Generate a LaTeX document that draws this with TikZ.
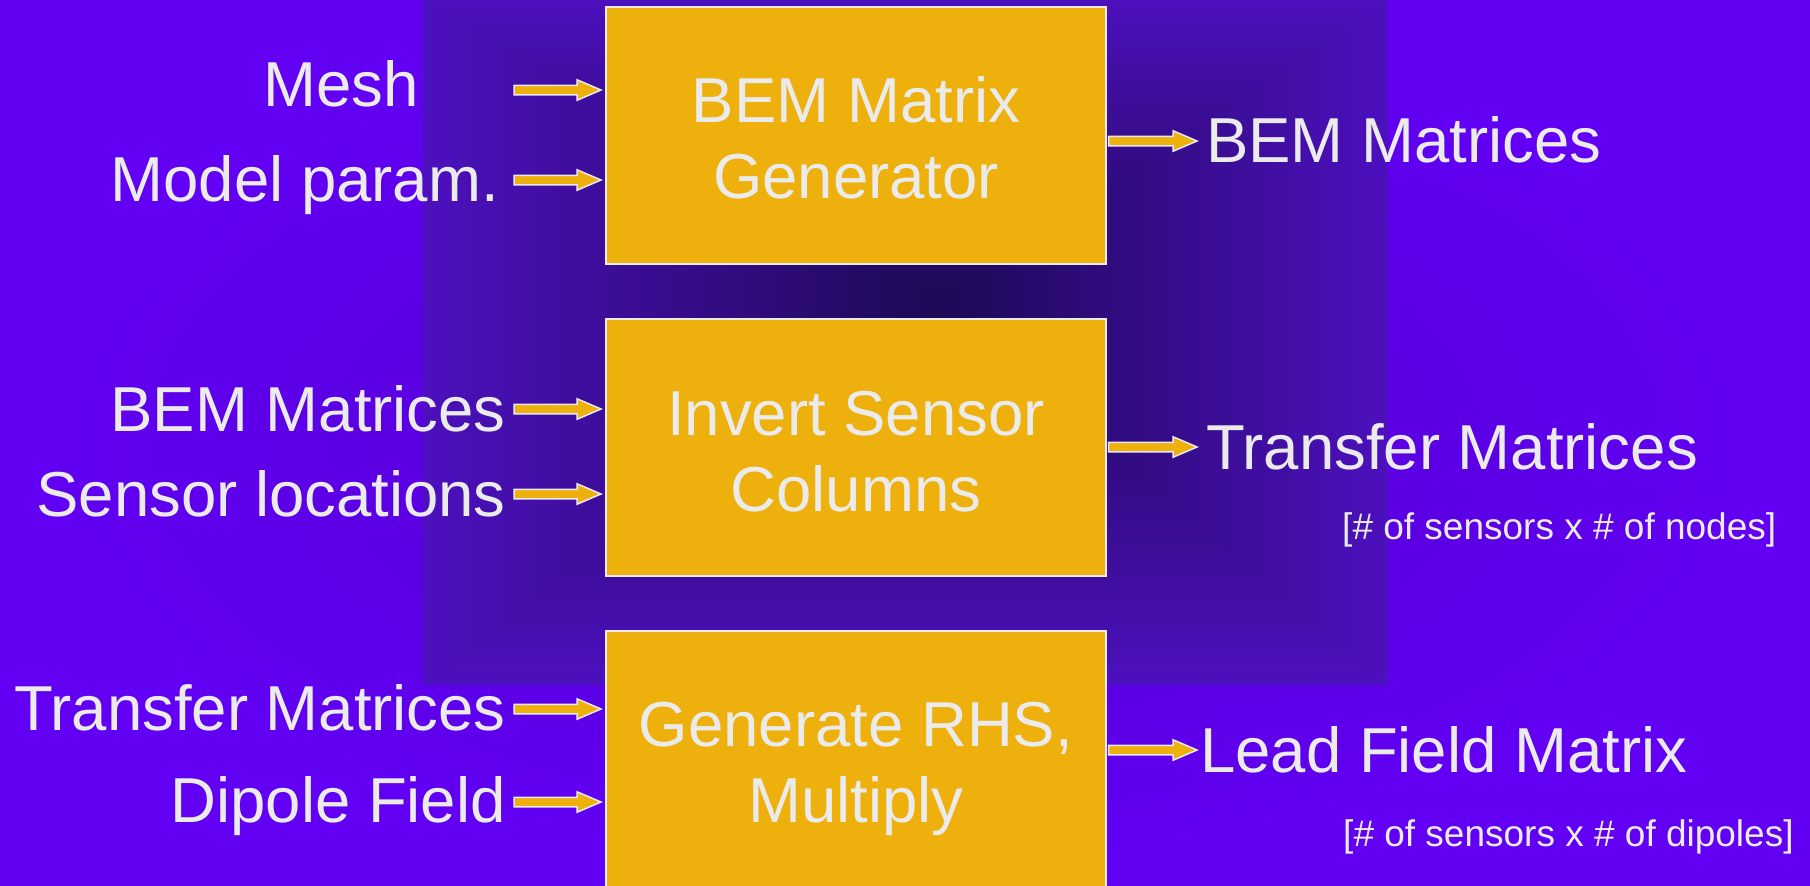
\documentclass[tikz,border=0pt]{standalone}
\usepackage{fontspec}
\setmainfont{Liberation Sans}
\usetikzlibrary{calc}
\definecolor{bgout}{RGB}{98,0,244}
\definecolor{bgmid}{RGB}{80,0,204}
\definecolor{rectout}{RGB}{76,16,188}
\definecolor{rectin}{RGB}{30,9,86}
\definecolor{gold}{RGB}{237,176,13}
\definecolor{txt}{RGB}{235,235,235}
\definecolor{aline}{RGB}{236,232,240}
\tikzset{
  box/.style={draw=txt, line width=2pt, fill=gold, text=txt, minimum width=500, minimum height=257,
    align=center, font=\fontsize{63.5}{76}\selectfont, inner sep=0},
  lab/.style={text=txt, font=\fontsize{63.5}{76}\selectfont, inner sep=0, text height=45.5, text depth=0},
  small/.style={text=txt, font=\fontsize{37}{44}\selectfont, inner sep=0, text height=26.5, text depth=0},
  barrow/.style={draw=aline, line width=1.5pt, fill=gold, line join=miter,
    to path={let \p1=(\tikztostart), \p2=(\tikztotarget) in
      (\x1,\y1+4.75pt) -- (\x2-24pt,\y1+4.75pt) -- (\x2-24pt,\y1+10.25pt) -- (\x2,\y1)
      -- (\x2-24pt,\y1-10.25pt) -- (\x2-24pt,\y1-4.75pt) -- (\x1,\y1-4.75pt) -- cycle}}
}
\begin{document}
\begin{tikzpicture}[x=1pt,y=-1pt]
\useasboundingbox (0,0) rectangle (1810,886);
% background
\shade[inner color=bgmid, outer color=bgout] (0,0) rectangle (1810,886);
\foreach \i in {0,...,59}{
  \pgfmathsetmacro\t{\i/60}
  \pgfmathtruncatemacro\p{100*\i/59}
  \fill[rectin!\p!rectout] ({423+\t*(940-423)},{0+\t*300}) rectangle ({1388-\t*(1388-940)},{685-\t*(685-300)});
}
% boxes
\node[box] (b1) at (856,135.5) {\rule{0pt}{50.5pt}BEM Matrix\\Generator};
\node[box] (b2) at (856,447.5) {\rule{0pt}{52.5pt}Invert Sensor\\Columns};
\node[box] (b3) at (856,759.5) {\rule{0pt}{63pt}Generate RHS,\\Multiply};
% left labels
\node[lab, anchor=east] (l1) at (419,84) {Mesh};
\node[lab, anchor=east] (l2) at (499,179) {Model param.};
\node[lab, anchor=east] (l3) at (506,409) {BEM Matrices};
\node[lab, anchor=east] (l4) at (506,494) {Sensor locations};
\node[lab, anchor=east] (l5) at (506,708) {Transfer Matrices};
\node[lab, anchor=east] (l6) at (506,800) {Dipole Field};
% right labels
\node[lab, anchor=west] (r1) at (1206,140) {BEM Matrices};
\node[lab, anchor=west] (r2) at (1206,447) {Transfer Matrices};
\node[lab, anchor=west] (r3) at (1200,750) {Lead Field Matrix};
\node[small, anchor=west] (s2) at (1342,526) {[\# of sensors x \# of nodes]};
\node[small, anchor=west] (s3) at (1343,833) {[\# of sensors x \# of dipoles]};
% arrow anchors
\coordinate (i1) at (514,90);
\coordinate (i2) at (514,180);
\coordinate (i3) at (514,409);
\coordinate (i4) at (514,494);
\coordinate (i5) at (514,709);
\coordinate (i6) at (514,802);
\coordinate (o1) at (1197,141);
\coordinate (o2) at (1197,447);
\coordinate (o3) at (1197,750);
% input arrows
\draw[barrow] (i1) to ([xshift=-4pt]b1.west |- i1);
\draw[barrow] (i2) to ([xshift=-4pt]b1.west |- i2);
\draw[barrow] (i3) to ([xshift=-4pt]b2.west |- i3);
\draw[barrow] (i4) to ([xshift=-4pt]b2.west |- i4);
\draw[barrow] (i5) to ([xshift=-4pt]b3.west |- i5);
\draw[barrow] (i6) to ([xshift=-4pt]b3.west |- i6);
% output arrows
\draw[barrow] ([xshift=1.5pt]b1.east |- o1) to (o1);
\draw[barrow] ([xshift=1.5pt]b2.east |- o2) to (o2);
\draw[barrow] ([xshift=1.5pt]b3.east |- o3) to (o3);
\end{tikzpicture}
\end{document}
